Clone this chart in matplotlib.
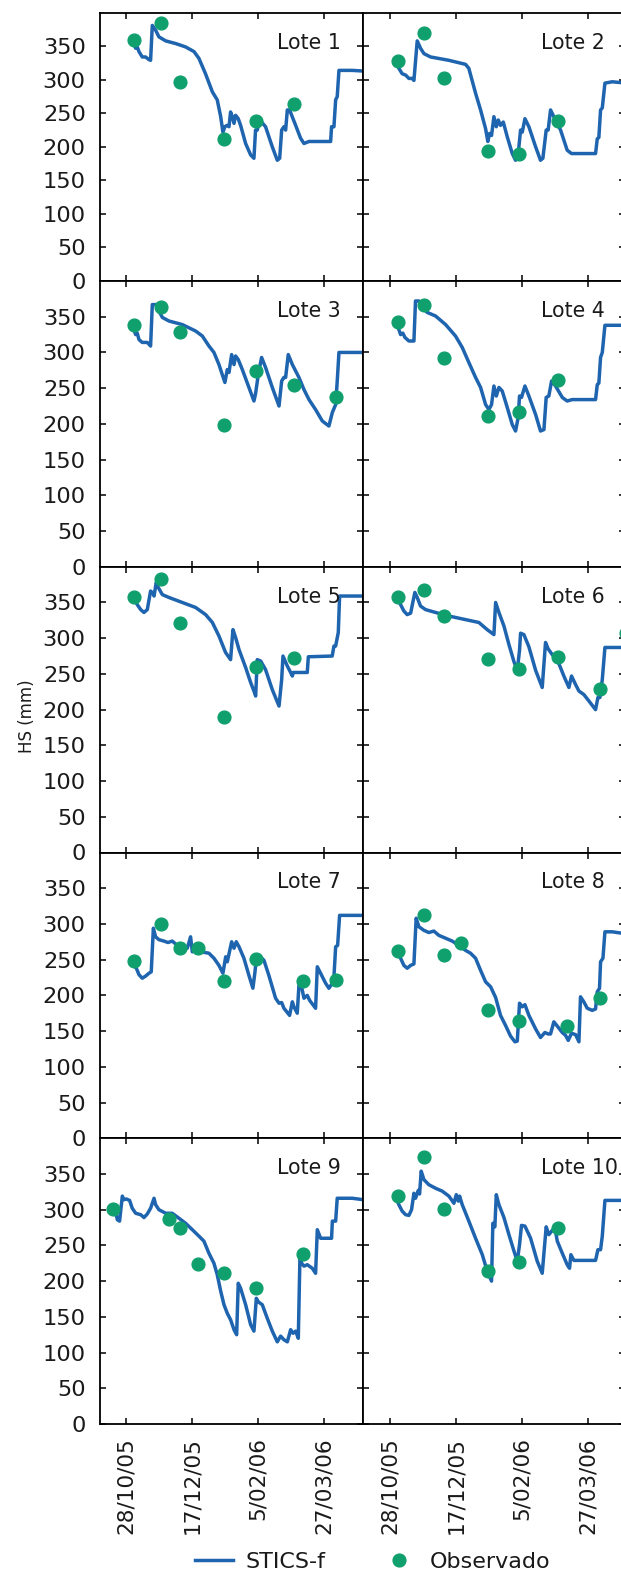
import matplotlib
matplotlib.use("Agg")
import matplotlib.pyplot as plt
import matplotlib.dates as mdates
from matplotlib.lines import Line2D
import pandas as pd

# ---------------------------------------------------------------------------
# Data: soil water stock HS (mm). Simulated series (STICS-f) given as
# (days after 28/10/2005, HS) pairs; observations as day offsets + values.
# ---------------------------------------------------------------------------
ref_date = "2005-10-28"

lote1_sim = [(5.6, 354), (7.1, 347), (8.3, 349), (9.6, 342), (12.1, 334), (14.6, 334), (17.2, 330),
             (18.4, 329), (19.7, 381), (22.2, 374), (24.7, 364), (29.8, 358), (37.4, 354), (44.9, 349),
             (51.3, 342), (55.0, 332), (60.0, 309), (65.2, 282), (68.9, 270), (71.5, 245), (73.2, 222),
             (74.7, 230), (76.3, 232), (77.8, 230), (79.0, 252), (80.3, 245), (81.6, 235), (82.8, 247),
             (84.8, 242), (86.6, 232), (90.4, 205), (94.2, 188), (96.7, 183), (97.9, 225), (99.2, 225),
             (100.5, 235), (102.5, 237), (105.5, 230), (110.6, 200), (114.4, 180), (116.2, 183),
             (117.7, 225), (119.4, 230), (120.7, 225), (122.0, 255), (123.7, 255), (128.3, 232),
             (132.0, 213), (134.6, 205), (138.4, 208), (154.8, 208), (155.5, 230), (157.3, 230),
             (158.6, 270), (159.8, 275), (161.1, 314), (171.2, 314), (179.5, 313)]

lote2_sim = [(5.1, 324), (6.8, 317), (9.3, 309), (11.9, 307), (14.4, 302), (16.9, 302), (18.2, 299),
             (20.7, 358), (23.2, 347), (25.8, 339), (30.8, 334), (44.7, 329), (57.3, 323), (59.8, 317),
             (64.9, 280), (68.7, 255), (72.5, 227), (74.2, 208), (75.5, 220), (77.0, 217), (78.8, 245),
             (80.6, 230), (82.1, 240), (83.8, 232), (85.9, 237), (88.9, 215), (92.7, 190), (95.2, 180),
             (97.2, 190), (99.0, 225), (100.3, 222), (102.3, 242), (105.3, 230), (110.4, 200),
             (114.1, 180), (115.9, 183), (118.4, 225), (119.9, 225), (121.7, 255), (124.2, 245),
             (129.3, 225), (134.3, 195), (137.6, 190), (155.8, 190), (157.1, 212), (158.3, 214),
             (159.6, 255), (160.9, 258), (162.9, 295), (168.4, 297), (179.5, 295)]

lote3_sim = [(5.6, 332), (7.1, 325), (8.3, 327), (9.6, 318), (12.1, 314), (15.9, 314), (18.4, 309),
             (19.7, 367), (23.5, 367), (24.7, 358), (27.3, 349), (32.3, 344), (42.4, 339), (52.5, 330),
             (57.6, 323), (62.6, 309), (66.4, 300), (70.2, 283), (72.7, 269), (74.7, 258), (76.5, 276),
             (77.8, 272), (79.8, 297), (81.6, 283), (82.8, 295), (84.8, 290), (87.9, 276), (92.9, 251),
             (96.7, 232), (97.9, 242), (100.0, 269), (102.5, 293), (105.5, 279), (110.6, 251),
             (115.7, 225), (117.7, 260), (119.4, 265), (120.7, 265), (122.7, 297), (125.8, 283),
             (130.8, 265), (134.6, 248), (138.4, 234), (143.4, 220), (148.5, 204), (153.5, 197),
             (156.1, 216), (158.6, 227), (159.8, 260), (161.1, 300), (179.5, 300)]

lote4_sim = [(5.1, 339), (6.8, 332), (8.1, 325), (9.8, 327), (11.4, 321), (14.4, 316), (16.9, 316),
             (18.2, 316), (19.4, 372), (22.0, 372), (24.5, 363), (28.3, 356), (34.6, 351), (42.2, 339),
             (49.7, 323), (54.8, 307), (59.8, 286), (64.9, 265), (68.7, 251), (72.5, 227), (75.0, 220),
             (77.0, 227), (78.8, 253), (80.6, 239), (82.6, 251), (85.1, 246), (88.9, 223), (92.7, 199),
             (95.2, 190), (97.2, 209), (98.2, 239), (99.7, 237), (102.3, 253), (105.3, 239),
             (110.4, 213), (114.1, 190), (116.7, 192), (118.4, 237), (120.4, 239), (122.5, 260),
             (125.5, 253), (130.6, 237), (134.3, 232), (138.1, 234), (155.8, 234), (157.1, 255),
             (158.3, 257), (159.6, 293), (160.9, 300), (162.9, 338), (179.5, 338)]

lote5_sim = [(5.6, 357), (8.3, 347), (10.9, 340), (13.4, 336), (15.9, 340), (18.4, 366), (20.2, 363),
             (21.0, 359), (22.7, 378), (24.2, 371), (27.3, 361), (32.3, 357), (42.4, 350), (52.5, 343),
             (60.1, 333), (65.2, 322), (70.2, 303), (75.2, 280), (79.0, 270), (80.8, 312), (82.8, 301),
             (85.4, 284), (90.4, 259), (94.2, 238), (96.7, 226), (98.0, 219), (99.2, 270), (101.8, 268),
             (105.5, 256), (110.6, 228), (115.7, 205), (117.7, 242), (118.7, 275), (122.0, 261),
             (124.5, 252), (125.8, 247), (126.5, 252), (137.1, 252), (137.9, 274), (156.0, 275),
             (157.3, 289), (158.6, 289), (160.6, 308), (161.6, 359), (179.5, 359)]

lote6_sim = [(5.1, 359), (8.1, 347), (10.6, 338), (13.1, 333), (15.7, 335), (18.9, 364), (20.7, 357),
             (23.2, 345), (27.0, 340), (34.6, 336), (44.7, 331), (57.3, 326), (67.4, 322), (73.7, 312),
             (78.8, 305), (80.1, 350), (82.6, 336), (86.4, 317), (90.2, 291), (94.0, 267), (96.5, 255),
             (98.2, 283), (99.0, 307), (101.5, 305), (105.3, 288), (110.4, 255), (115.4, 231),
             (117.9, 294), (119.9, 285), (123.0, 277), (126.8, 270), (131.8, 247), (135.6, 231),
             (137.6, 247), (140.7, 235), (143.2, 226), (147.0, 221), (150.8, 212), (155.8, 200),
             (157.6, 217), (159.1, 217), (160.9, 242), (162.9, 287), (179.5, 287)]

lote7_sim = [(5.6, 242), (7.6, 238), (9.6, 229), (12.1, 224), (14.6, 227), (17.2, 231), (18.9, 233),
             (20.5, 294), (22.2, 282), (24.7, 278), (28.5, 276), (31.6, 274), (34.8, 276), (38.6, 270),
             (42.4, 268), (46.2, 266), (48.7, 282), (50.0, 261), (52.5, 266), (56.3, 261), (62.6, 259),
             (66.4, 252), (70.2, 242), (73.2, 231), (75.3, 254), (76.5, 247), (79.8, 275), (81.6, 266),
             (83.3, 275), (85.4, 268), (89.1, 252), (92.9, 228), (95.9, 210), (97.5, 233), (98.5, 252),
             (100.5, 256), (104.3, 249), (108.0, 228), (113.1, 196), (115.7, 189), (117.7, 190),
             (119.4, 182), (122.0, 176), (123.7, 172), (125.8, 191), (127.0, 184), (129.5, 175),
             (130.8, 214), (132.8, 212), (134.6, 196), (137.1, 200), (138.9, 193), (143.4, 182),
             (144.7, 240), (148.0, 228), (151.0, 217), (153.5, 210), (156.1, 217), (157.3, 226),
             (158.6, 268), (160.1, 270), (161.6, 312), (179.5, 312)]

lote8_sim = [(5.1, 261), (8.1, 252), (10.6, 242), (13.1, 238), (15.7, 242), (18.2, 244), (19.9, 308),
             (22.0, 296), (25.8, 291), (29.5, 288), (33.3, 290), (37.1, 284), (42.2, 280), (47.2, 276),
             (52.3, 270), (57.3, 263), (61.1, 259), (64.9, 252), (68.7, 235), (72.5, 219), (76.3, 212),
             (80.1, 197), (83.8, 172), (87.6, 158), (91.4, 143), (94.7, 135), (96.5, 136), (98.2, 189),
             (100.2, 184), (102.3, 187), (105.3, 172), (110.4, 153), (114.1, 141), (117.4, 148),
             (119.9, 146), (121.7, 146), (124.2, 163), (126.8, 157), (130.6, 148), (133.1, 144),
             (135.1, 137), (137.6, 147), (140.7, 145), (143.2, 135), (144.4, 198), (146.9, 191),
             (149.5, 182), (153.3, 179), (155.8, 181), (157.1, 205), (158.8, 210), (159.6, 247),
             (161.4, 252), (162.9, 289), (168.4, 289), (179.5, 286)]

lote9_sim = [(-10.1, 300), (-8.1, 298), (-6.8, 286), (-5.1, 284), (-3.0, 319), (-1.8, 314), (0.0, 315),
             (2.5, 313), (4.5, 302), (7.1, 295), (10.9, 293), (13.4, 289), (15.9, 294), (18.4, 302),
             (21.0, 316), (22.2, 307), (24.7, 300), (29.8, 295), (34.8, 295), (39.9, 288), (44.9, 281),
             (50.0, 272), (55.0, 263), (58.8, 256), (62.6, 239), (66.4, 225), (68.9, 209), (71.5, 186),
             (74.0, 167), (76.5, 155), (79.0, 146), (81.6, 132), (83.6, 125), (84.8, 197), (86.6, 190),
             (90.4, 167), (94.2, 139), (96.7, 130), (98.5, 176), (100.0, 171), (103.0, 167),
             (106.8, 148), (110.6, 130), (114.4, 115), (116.9, 123), (119.4, 118), (122.0, 115),
             (124.5, 132), (126.3, 127), (128.3, 130), (130.3, 120), (131.6, 239), (132.8, 225),
             (134.6, 221), (137.1, 223), (140.9, 218), (143.4, 211), (144.7, 272), (147.2, 260),
             (153.5, 260), (155.5, 260), (156.1, 284), (158.6, 284), (159.8, 316), (171.2, 316),
             (179.5, 314)]

lote10_sim = [(5.1, 314), (6.8, 307), (9.3, 298), (11.9, 293), (14.4, 292), (16.4, 300), (18.2, 323),
              (19.4, 316), (21.5, 327), (22.5, 322), (23.7, 354), (25.8, 342), (29.5, 335), (34.6, 330),
              (39.6, 326), (44.7, 319), (48.5, 309), (50.3, 321), (51.8, 312), (52.8, 319), (54.8, 307),
              (59.8, 284), (64.9, 260), (70.0, 237), (73.7, 214), (77.0, 200), (78.0, 281), (79.5, 276),
              (80.6, 321), (82.6, 307), (86.4, 289), (90.2, 265), (94.0, 242), (96.5, 228), (98.2, 251),
              (99.7, 278), (102.3, 277), (106.6, 260), (111.6, 228), (115.4, 211), (118.4, 276),
              (120.4, 265), (123.0, 271), (125.0, 275), (126.8, 256), (130.6, 239), (134.3, 223),
              (136.1, 218), (137.1, 237), (139.4, 229), (155.8, 229), (157.6, 244), (159.6, 244),
              (160.9, 263), (162.9, 313), (179.5, 313)]

# Observed HS (mm): sampling day offsets and values
lote1_obs_day = [6, 26, 41, 74, 98, 127]
lote1_obs_hs = [359, 384, 297, 211, 238, 264]
lote2_obs_day = [6, 26, 41, 74, 98, 127]
lote2_obs_hs = [328, 369, 302, 194, 189, 239]
lote3_obs_day = [6, 26, 41, 74, 98, 127, 159]
lote3_obs_hs = [338, 363, 329, 198, 274, 255, 238]
lote4_obs_day = [6, 26, 41, 74, 98, 127]
lote4_obs_hs = [342, 367, 292, 211, 216, 261]
lote5_obs_day = [6, 26, 41, 74, 98, 127]
lote5_obs_hs = [357, 383, 321, 190, 259, 272]
lote6_obs_day = [6, 26, 41, 74, 98, 127, 159, 178.5]
lote6_obs_hs = [357, 367, 331, 271, 257, 274, 229, 307]
lote7_obs_day = [6, 26, 41, 54, 74, 98, 134, 159]
lote7_obs_hs = [248, 300, 266, 266, 220, 251, 220, 222]
lote8_obs_day = [6, 26, 41, 54, 74, 98, 134, 159]
lote8_obs_hs = [262, 312, 256, 274, 180, 164, 157, 196]
lote9_obs_day = [-10, 32, 41, 54, 74, 98, 134]
lote9_obs_hs = [301, 287, 274, 224, 211, 190, 238]
lote10_obs_day = [6, 26, 41, 74, 98, 127]
lote10_obs_hs = [319, 374, 301, 214, 227, 274]

panel_titles = ["Lote 1", "Lote 2", "Lote 3", "Lote 4", "Lote 5",
                "Lote 6", "Lote 7", "Lote 8", "Lote 9", "Lote 10"]
sim_series = [lote1_sim, lote2_sim, lote3_sim, lote4_sim, lote5_sim,
              lote6_sim, lote7_sim, lote8_sim, lote9_sim, lote10_sim]
obs_days = [lote1_obs_day, lote2_obs_day, lote3_obs_day, lote4_obs_day, lote5_obs_day,
            lote6_obs_day, lote7_obs_day, lote8_obs_day, lote9_obs_day, lote10_obs_day]
obs_values = [lote1_obs_hs, lote2_obs_hs, lote3_obs_hs, lote4_obs_hs, lote5_obs_hs,
              lote6_obs_hs, lote7_obs_hs, lote8_obs_hs, lote9_obs_hs, lote10_obs_hs]

x_tick_dates = ["2005-10-28", "2005-12-17", "2006-02-05", "2006-03-27"]
x_tick_labels = ["28/10/05", "17/12/05", "5/02/06", "27/03/06"]
y_ticks = [0, 50, 100, 150, 200, 250, 300, 350]

# ---------------------------------------------------------------------------
LINE_COLOR = "#1e64af"
DOT_COLOR = "#10a06e"
TEXT_COLOR = "#1a1a1a"
YTICK_FS = 16.2
XTICK_FS = 15.6
TITLE_FS = 14.8
LEGEND_FS = 16

base = pd.Timestamp(ref_date)


def to_dates(days):
    return base + pd.to_timedelta(list(days), unit="D")


W, H = 621, 1575
fig = plt.figure(figsize=(W / 100, H / 100), dpi=100)

col_left = [99.7, 363.3]
col_width = [263.6, 261.2]
row_top = [12.7, 281.0, 566.75, 852.5, 1138.25]
row_bottom = [281.0, 566.75, 852.5, 1138.25, 1424.0]

x_start = mdates.date2num(base - pd.Timedelta(days=20.15))
px_per_day = 1.32

for i, (title, sim, od, ov) in enumerate(zip(panel_titles, sim_series, obs_days, obs_values)):
    r, c = divmod(i, 2)
    left = col_left[c] / W
    width = col_width[c] / W
    bottom = 1 - row_bottom[r] / H
    height = (row_bottom[r] - row_top[r]) / H
    ax = fig.add_axes([left, bottom, width, height])

    days, hs = zip(*sim)
    ax.plot(to_dates(days), hs, color=LINE_COLOR, lw=2.5, solid_joinstyle="round", zorder=2)
    ax.plot(to_dates(od), ov, linestyle="none", marker="o", markersize=9.2,
            markerfacecolor=DOT_COLOR, markeredgecolor=DOT_COLOR, zorder=3)

    ax.set_xlim(x_start, x_start + col_width[c] / px_per_day)
    ax.set_ylim(0, 400)
    ax.set_yticks(y_ticks)
    ax.set_xticks([mdates.date2num(pd.Timestamp(d)) for d in x_tick_dates])

    if c == 0:
        ax.set_yticklabels([str(v) for v in y_ticks])
    else:
        ax.set_yticklabels([])
    if r == 4:
        ax.set_xticklabels(x_tick_labels, rotation=90)
    else:
        ax.set_xticklabels([])

    ax.tick_params(axis="both", direction="in", length=4.3, width=1.1,
                   top=True, right=True, labelcolor=TEXT_COLOR, color="black")
    ax.tick_params(axis="y", pad=10, labelsize=YTICK_FS)
    ax.tick_params(axis="x", pad=9.5, labelsize=XTICK_FS)
    for s in ax.spines.values():
        s.set_linewidth(1.3)
        s.set_color("black")

    ax.annotate(title, xy=(0, 1), xycoords="axes fraction",
                xytext=(177.6 * 0.72, -30 * 0.72), textcoords="offset points",
                ha="left", va="center", fontsize=TITLE_FS, color=TEXT_COLOR)

fig.text(27 / W, 1 - 716 / H, "HS (mm)", rotation=90, ha="center", va="center",
         fontsize=12, color=TEXT_COLOR)

handles = [Line2D([], [], color=LINE_COLOR, lw=2.5),
           Line2D([], [], linestyle="none", marker="o", markersize=9.2,
                  markerfacecolor=DOT_COLOR, markeredgecolor=DOT_COLOR)]
fig.legend(handles, ["STICS-f", "Observado"], loc="center", ncol=2, frameon=False,
           bbox_to_anchor=(373 / W, 1 - 1562 / H), fontsize=LEGEND_FS, handlelength=1.7,
           handletextpad=0.55, columnspacing=2.45, labelcolor=TEXT_COLOR)

fig.savefig("out.png", dpi=100)
